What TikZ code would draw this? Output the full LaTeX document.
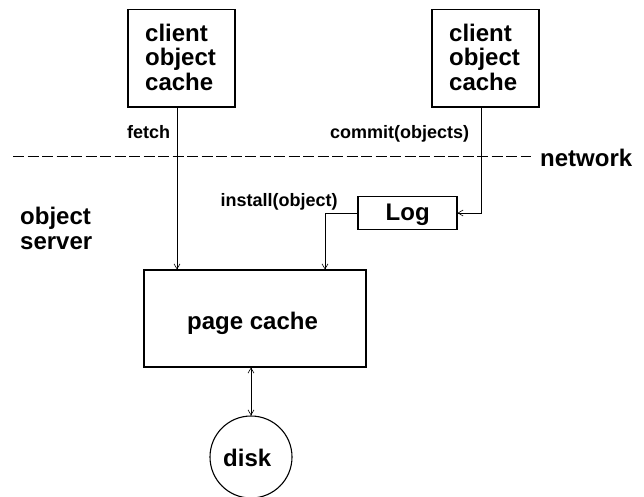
\documentclass[tikz,border=0pt]{standalone}
\usepackage{fontspec}
\setmainfont{Liberation Sans}
\usetikzlibrary{arrows.meta}
\tikzset{
  box/.style={draw=black,line width=1.1pt,inner sep=0pt,fill=none},
  big/.style={font=\fontsize{24}{24.5}\selectfont\bfseries,inner sep=0pt,anchor=base west},
  small/.style={font=\fontsize{18}{20}\selectfont\bfseries,inner sep=0pt,anchor=base west},
  stack/.style={font=\fontsize{24}{24.5}\selectfont\bfseries,inner sep=0pt,align=left,anchor=north west},
  conn/.style={line width=0.8pt,-{Straight Barb[length=5pt,width=6pt,line width=0.6pt]}},
  conn2/.style={line width=0.8pt,{Straight Barb[length=5pt,width=6pt,line width=0.6pt]}-{Straight Barb[length=5pt,width=6pt,line width=0.6pt]}}
}
\begin{document}
\begin{tikzpicture}[x=1pt,y=-1pt]
\useasboundingbox (0,0) rectangle (644,497);
\node[box,minimum width=107pt,minimum height=97.5pt] (c1) at (181.5,58.25) {};
\node[box,minimum width=107pt,minimum height=97.5pt] (c2) at (485.5,58.25) {};
\node[box,minimum width=99pt,minimum height=32.5pt] (log) at (407.5,213) {};
\node[box,minimum width=222pt,minimum height=97pt] (pc) at (255,318.5) {};
\node[draw=black,line width=1.1pt,circle,minimum size=82pt,inner sep=0pt] (disk) at (251,457) {};
\node[stack] (t1) at (145,23.5) {client\\object\\cache};
\node[stack] (t2) at (449,23.5) {client\\object\\cache};
\node[big] (tlog) at (385.5,220.5) {Log};
\node[big] (tpc) at (187,329) {page cache};
\node[big] (tdisk) at (223,466) {disk};
\node[big] (tnet) at (540,166.5) {network};
\node[stack] (tos) at (20,207) {object\\server};
\node[small] (tf) at (127,139) {fetch};
\node[small] (tc) at (330,139) {commit(objects)};
\node[small] (ti) at (220.5,206) {install(object)};
\coordinate (dl) at (13,156);
\coordinate (dr) at (531,156);
\draw[line width=0.8pt,dash pattern=on 11pt off 3.5pt] (dl) -- (dr);
\draw[conn] (c1.south -| 177,0) -- (pc.north -| 177,0);
\draw[conn] (c2.south -| 481,0) |- (log.east);
\draw[conn] (log.west) -| (pc.north -| 325,0);
\draw[conn2] (pc.south -| disk.north) -- (disk.north);
\end{tikzpicture}
\end{document}
